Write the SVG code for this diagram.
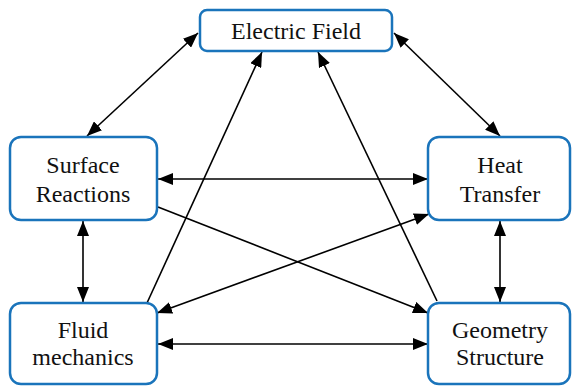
<svg xmlns="http://www.w3.org/2000/svg" width="572" height="386" viewBox="0 0 572 386">
<defs>
<marker id="ah" viewBox="0 0 15 12" refX="15" refY="6" markerWidth="15" markerHeight="12" markerUnits="userSpaceOnUse" orient="auto-start-reverse">
<path d="M0,0 L15,6 L0,12 Z" fill="#000"/>
</marker>
<style>
.box{fill:#fff;stroke:#1a74bb;stroke-width:2.5}
.t{font-family:"Liberation Serif","Times New Roman",serif;font-size:24px;fill:#111;text-anchor:middle}
.c line{stroke:#000;stroke-width:1.6}
</style>
</defs>
<rect width="572" height="386" fill="#fff"/>
<g class="c">
<line x1="87" y1="136" x2="198" y2="33" marker-start="url(#ah)" marker-end="url(#ah)"/>
<line x1="394" y1="33" x2="500" y2="136" marker-start="url(#ah)" marker-end="url(#ah)"/>
<line x1="158" y1="179" x2="428" y2="179" marker-start="url(#ah)" marker-end="url(#ah)"/>
<line x1="158" y1="207" x2="428" y2="313" marker-end="url(#ah)"/>
<line x1="157" y1="313" x2="429" y2="214" marker-start="url(#ah)" marker-end="url(#ah)"/>
<line x1="147" y1="303" x2="262" y2="52" marker-end="url(#ah)"/>
<line x1="437" y1="301" x2="318" y2="52" marker-end="url(#ah)"/>
<line x1="83" y1="221" x2="83" y2="302" marker-start="url(#ah)" marker-end="url(#ah)"/>
<line x1="500" y1="221" x2="500" y2="302" marker-start="url(#ah)" marker-end="url(#ah)"/>
<line x1="158" y1="344" x2="428" y2="344" marker-start="url(#ah)" marker-end="url(#ah)"/>
</g>
<g id="electric-field">
<rect class="box" x="200" y="10" width="192" height="41" rx="7"/>
<text class="t" x="296" y="39">Electric Field</text>
</g>
<g id="surface-reactions">
<rect class="box" x="10" y="137" width="147" height="83" rx="11"/>
<text class="t" x="83" y="173">Surface</text>
<text class="t" x="83" y="202">Reactions</text>
</g>
<g id="heat-transfer">
<rect class="box" x="428" y="137" width="142" height="83" rx="11"/>
<text class="t" x="500" y="173">Heat</text>
<text class="t" x="500" y="202">Transfer</text>
</g>
<g id="fluid-mechanics">
<rect class="box" x="10" y="303" width="147" height="81" rx="11"/>
<text class="t" x="83" y="338">Fluid</text>
<text class="t" x="83" y="365">mechanics</text>
</g>
<g id="geometry-structure">
<rect class="box" x="428" y="303" width="142" height="81" rx="11"/>
<text class="t" x="500" y="338">Geometry</text>
<text class="t" x="500" y="365">Structure</text>
</g>
</svg>
